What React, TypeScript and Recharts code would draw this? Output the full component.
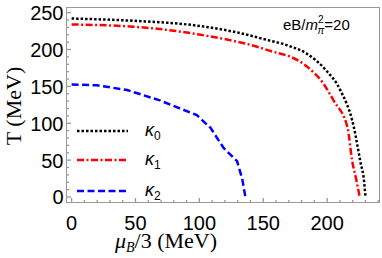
import React from 'react';
import { LineChart, Line, XAxis, YAxis } from 'recharts';

const kappa0 = [
  { mu: 0, T: 242 }, { mu: 48, T: 239 }, { mu: 100, T: 232 }, { mu: 130, T: 223 },
  { mu: 153, T: 213 }, { mu: 170, T: 205 }, { mu: 184, T: 194.5 }, { mu: 199, T: 172 },
  { mu: 210, T: 146 }, { mu: 221, T: 94 }, { mu: 226, T: 48 }, { mu: 229, T: 20 }, { mu: 230, T: 0 },
];
const kappa1 = [
  { mu: 0, T: 234 }, { mu: 48, T: 231 }, { mu: 101, T: 220 }, { mu: 153, T: 199.5 },
  { mu: 183, T: 178.5 }, { mu: 197, T: 154 }, { mu: 205, T: 131 }, { mu: 216, T: 94 },
  { mu: 219.5, T: 50 }, { mu: 223, T: 22 }, { mu: 225.5, T: 0 },
];
const kappa2 = [
  { mu: 0, T: 152.5 }, { mu: 20, T: 151.5 }, { mu: 43.5, T: 145 }, { mu: 69, T: 131 },
  { mu: 98, T: 111 }, { mu: 108.6, T: 94 }, { mu: 119, T: 66.5 }, { mu: 129.5, T: 48.5 },
  { mu: 133.5, T: 25 }, { mu: 136, T: 0 },
];

const seriesNames = ['0', '1', '2'];
const seriesColors = ['#000000', '#ff0000', '#0000ff'];
const seriesDash = ['2.5 2', '7 2.5 2 2.5', '7 3.5'];
const seriesData = [kappa0, kappa1, kappa2];

const xDomain = [-4, 241];
const yDomain = [-7.5, 257];
const xTicks = Array.from({ length: 25 }, (_, i) => i * 10);
const yTicks = Array.from({ length: 26 }, (_, i) => i * 10);

const W = 382;
const H = 258;
const M = { top: 7.5, right: 2.5, bottom: 0, left: 0 };
const Y_AXIS_W = 66.5;
const X_AXIS_H = 55.5;

const FRAME = '#999999';
const SANS = '"Liberation Sans", Arial, sans-serif';
const SERIF = '"Liberation Serif", "Times New Roman", serif';

const tickLen = (v: number) => (v % 50 === 0 ? 4.5 : 2.5);

const BottomTick = (p: any) => {
  const v = p.payload.value;
  return (
    <g>
      <line x1={p.x} x2={p.x} y1={p.y} y2={p.y - tickLen(v)} stroke={FRAME} strokeWidth={1.3} />
      {v % 50 === 0 && (
        <text x={p.x} y={p.y + 27} textAnchor="middle" fontFamily={SANS} fontSize={20} fill="#000">{v}</text>
      )}
    </g>
  );
};
const TopTick = (p: any) => (
  <line x1={p.x} x2={p.x} y1={p.y} y2={p.y + tickLen(p.payload.value)} stroke={FRAME} strokeWidth={1.3} />
);
const LeftTick = (p: any) => {
  const v = p.payload.value;
  return (
    <g>
      <line x1={p.x} x2={p.x + tickLen(v)} y1={p.y} y2={p.y} stroke={FRAME} strokeWidth={1.3} />
      {v % 50 === 0 && (
        <text x={p.x - 3} y={p.y + 7.5} textAnchor="end" fontFamily={SANS} fontSize={20} fill="#000">{v}</text>
      )}
    </g>
  );
};
const RightTick = (p: any) => (
  <line x1={p.x} x2={p.x - tickLen(p.payload.value)} y1={p.y} y2={p.y} stroke={FRAME} strokeWidth={1.3} />
);

export default function App() {
  const plotL = M.left + Y_AXIS_W;
  const plotT = M.top;
  const plotR = W - M.right;
  const plotB = H - M.bottom - X_AXIS_H;
  return (
    <div style={{ position: 'absolute', left: 0, top: 0, width: W, height: H, background: '#fff' }}>
      <LineChart width={W} height={H} margin={M}>
        <XAxis dataKey="mu" type="number" domain={xDomain} ticks={xTicks} interval={0}
          allowDataOverflow height={X_AXIS_H} tickSize={0} tickMargin={0} tick={<BottomTick />}
          axisLine={false} tickLine={false} />
        <XAxis xAxisId="top" orientation="top" dataKey="mu" type="number" domain={xDomain} ticks={xTicks}
          interval={0} allowDataOverflow height={0} tickSize={0} tickMargin={0} tick={<TopTick />}
          axisLine={false} tickLine={false} />
        <YAxis type="number" domain={yDomain} ticks={yTicks} interval={0} allowDataOverflow width={Y_AXIS_W}
          tickSize={0} tickMargin={0} tick={<LeftTick />} axisLine={false} tickLine={false} />
        <YAxis yAxisId="right" orientation="right" type="number" domain={yDomain} ticks={yTicks}
          interval={0} allowDataOverflow width={0} tickSize={0} tickMargin={0} tick={<RightTick />}
          axisLine={false} tickLine={false} />
        {seriesData.map((d, i) => (
          <Line key={i} data={d} dataKey="T" type={i === 2 ? 'linear' : 'monotone'} stroke={seriesColors[i]}
            strokeWidth={2.5} strokeDasharray={seriesDash[i]} dot={false} isAnimationActive={false} />
        ))}
      </LineChart>
      {/* plot frame, as a bordered box over the plot area */}
      <div style={{
        position: 'absolute', left: Math.floor(plotL), top: Math.floor(plotT),
        width: Math.ceil(plotR) - Math.floor(plotL), height: Math.ceil(plotB) - Math.floor(plotT),
        boxSizing: 'border-box', border: `1px solid ${FRAME}`, pointerEvents: 'none',
      }} />
      <svg width={W} height={H} style={{ position: 'absolute', left: 0, top: 0, pointerEvents: 'none' }}>
        {seriesNames.map((n, i) => {
          const y = [131, 160, 191][i];
          return (
            <g key={n}>
              <line x1={77} x2={128} y1={y} y2={y} stroke={seriesColors[i]} strokeWidth={2.5}
                strokeDasharray={seriesDash[i]} />
              <text x={145} y={y + 5} fontFamily={SANS} fontSize={18} fontStyle="italic" fill="#000">
                κ<tspan fontSize={12} fontStyle="normal" dy={4}>{n}</tspan>
              </text>
            </g>
          );
        })}
        <text x={283} y={30} fontFamily={SANS} fontSize={15} fill="#000">
          eB/<tspan fontStyle="italic">m</tspan>
          <tspan fontSize={10} dy={-7}>2</tspan>
          <tspan fontSize={10} fontStyle="italic" dx={-6} dy={11}>π</tspan>
          <tspan dy={-4}>=20</tspan>
        </text>
        <text transform="translate(21,106) rotate(-90)" textAnchor="middle" fontFamily={SERIF} fontSize={22} fill="#000">
          T (MeV)
        </text>
        <text x={115} y={248} fontFamily={SERIF} fontSize={22} fill="#000">
          <tspan fontStyle="italic">μ</tspan>
          <tspan fontStyle="italic" fontSize={14} dy={4}>B</tspan>
          <tspan dy={-4}>/3 (MeV)</tspan>
        </text>
      </svg>
    </div>
  );
}
